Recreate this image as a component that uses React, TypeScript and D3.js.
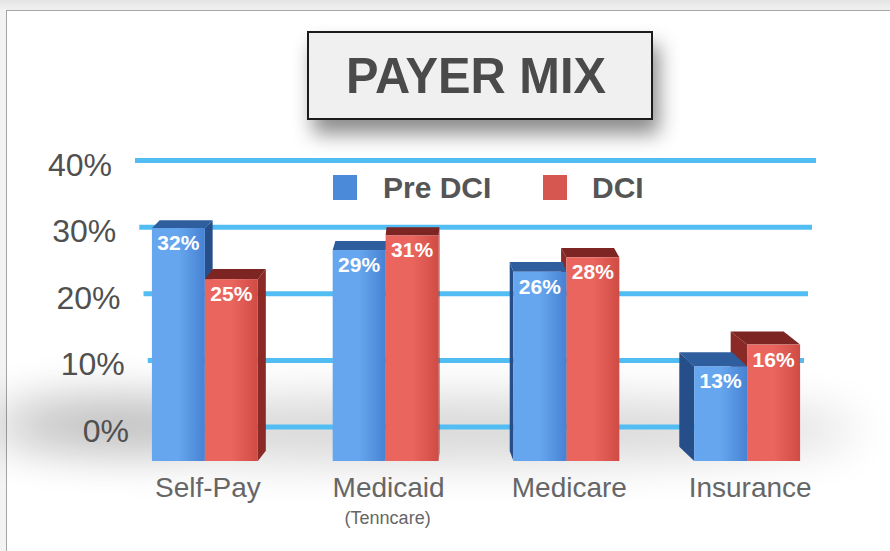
import React from 'react';
import * as d3 from 'd3';

const categories = ['Self-Pay', 'Medicaid', 'Medicare', 'Insurance'];
const subLabels = ['', '(Tenncare)', '', ''];
const seriesNames = ['Pre DCI', 'DCI'];
const preDci = [32, 29, 26, 13];
const dci = [25, 31, 28, 16];
const yTicks = [0, 10, 20, 30, 40];
const tickLabels = ['0%', '10%', '20%', '30%', '40%'];

const W = 890;
const H = 551;
const FONT = '"Liberation Sans", Arial, Helvetica, sans-serif';

const palette = {
  'Pre DCI': { front0: '#66a6ee', front1: '#4782d3', side: '#264f8a', top: '#2f5e9f', legend: '#4a8ad8' },
  DCI: { front0: '#ea655d', front1: '#cf4c45', side: '#8a2926', top: '#7d2522', legend: '#d65650' },
};

export default function App() {
  // bars stand in front of the grid, so they get their own scale
  const yBar = d3.scaleLinear().domain([0, 40]).range([461, 170]);
  const yGrid = d3.scaleLinear().domain([0, 40]).range([427, 160.5]);
  const gridStart = d3.scaleLinear().domain([0, 40]).range([152, 135]);
  const gridEnd = d3.scaleLinear().domain([0, 40]).range([800, 816]);

  const x0 = d3.scaleBand<string>().domain(categories).range([114.5, 837.5]).paddingInner(0.414).paddingOuter(0.207);
  const x1 = d3.scaleBand<string>().domain(seriesNames).range([0, x0.bandwidth()]);

  const values: Record<string, number[]> = { 'Pre DCI': preDci, DCI: dci };

  // fake perspective: depth grows as the top gets lower, direction from a vanishing x
  const vanishX = 440;
  const depth = (cx: number, yt: number) => {
    const dy = 8 + (yt - 230) * 0.045;
    const dx = -(cx - vanishX) * 0.03 * (dy / 8);
    return { dx, dy };
  };

  const bars = categories.map((cat, ci) => {
    const list = seriesNames.map((s) => {
      const v = values[s][ci];
      const x = (x0(cat) as number) + (x1(s) as number);
      const w = x1.bandwidth();
      const yt = yBar(v);
      const yb = yBar(0);
      const { dx, dy } = depth(x + w / 2, yt);
      return { cat, s, v, x, w, yt, yb, dx, dy };
    });
    // draw the bar whose side gets hidden first
    return list[0].dx < 0 ? list.slice().reverse() : list;
  });

  return (
    <svg width={W} height={H} style={{ position: 'absolute', left: 0, top: 0 }} fontFamily={FONT}>
      <defs>
        <linearGradient id="strip" x1="0" y1="0" x2="0" y2="1">
          <stop offset="0" stopColor="#e4e4e4" />
          <stop offset="1" stopColor="#f3f3f3" />
        </linearGradient>
        {seriesNames.map((s, i) => (
          <linearGradient key={s} id={'front' + i} x1="0" y1="0" x2="1" y2="0">
            <stop offset="0" stopColor={palette[s].front0} />
            <stop offset="0.5" stopColor={palette[s].front0} />
            <stop offset="1" stopColor={palette[s].front1} />
          </linearGradient>
        ))}
        <filter id="boxShadow" x="-20%" y="-30%" width="150%" height="180%">
          <feDropShadow dx="6" dy="14" stdDeviation="10" floodColor="#000" floodOpacity="0.45" />
        </filter>
        <filter id="floorBlur" x="-30%" y="-200%" width="160%" height="500%">
          <feGaussianBlur stdDeviation="24" />
        </filter>
      </defs>

      <rect x={0} y={0} width={W} height={H} fill="#f3f3f3" />
      <rect x={0} y={0} width={W} height={11} fill="url(#strip)" />
      <rect x={6.5} y={10.5} width={W + 20} height={H + 20} fill="#fff" stroke="#a5a5a5" />

      {/* floor shadow */}
      <ellipse cx={420} cy={430} rx={440} ry={32} fill="#000" opacity={0.16} filter="url(#floorBlur)" />
      <ellipse cx={100} cy={420} rx={100} ry={24} fill="#000" opacity={0.16} filter="url(#floorBlur)" />

      {/* title */}
      <rect x={308} y={32} width={344} height={87} fill="#f0f0f0" stroke="#1e1e1e" strokeWidth={2} filter="url(#boxShadow)" />
      <text
        x={476}
        y={93}
        textAnchor="middle"
        fontWeight="bold"
        fontSize={50}
        textLength={260}
        lengthAdjust="spacingAndGlyphs"
        fill="#4a4a4a"
      >
        PAYER MIX
      </text>

      {/* grid */}
      {yTicks.map((t, i) => (
        <g key={t}>
          <line x1={gridStart(t)} x2={gridEnd(t)} y1={yGrid(t)} y2={yGrid(t)} stroke="#52bdf2" strokeWidth={5} />
          <text x={gridStart(t) - 23} y={yGrid(t) + 15} textAnchor="end" fontSize={32} fill="#505050">
            {tickLabels[i]}
          </text>
        </g>
      ))}

      {/* legend */}
      <rect x={333} y={175} width={24} height={25} fill={palette['Pre DCI'].legend} />
      <text x={383} y={198} fontSize={30} fontWeight="bold" fill="#555">Pre DCI</text>
      <rect x={543} y={175} width={24} height={25} fill={palette.DCI.legend} />
      <text x={592} y={198} fontSize={30} fontWeight="bold" fill="#555">DCI</text>

      {/* bars */}
      {bars.map((group, gi) => (
        <g key={gi}>
          {group.map((b) => {
            const si = seriesNames.indexOf(b.s);
            const c = palette[b.s];
            const top = [
              [b.x, b.yt],
              [b.x + b.w, b.yt],
              [b.x + b.w + b.dx, b.yt - b.dy],
              [b.x + b.dx, b.yt - b.dy],
            ];
            const ex = b.dx >= 0 ? b.x + b.w : b.x;
            const side = [
              [ex, b.yt],
              [ex + b.dx, b.yt - b.dy],
              [ex + b.dx, b.yb - b.dy],
              [ex, b.yb],
            ];
            return (
              <g key={b.s}>
                <polygon points={side.map((p) => p.join(',')).join(' ')} fill={c.side} />
                <polygon points={top.map((p) => p.join(',')).join(' ')} fill={c.top} />
                <rect x={b.x} y={b.yt} width={b.w} height={b.yb - b.yt} fill={`url(#front${si})`} />
                <text x={b.x + b.w / 2} y={b.yt + 22} textAnchor="middle" fontSize={21} fontWeight="bold" fill="#fff">
                  {b.v}%
                </text>
              </g>
            );
          })}
        </g>
      ))}

      {/* category labels */}
      {categories.map((cat, i) => {
        const cx = (x0(cat) as number) + x0.bandwidth() / 2;
        return (
          <g key={cat}>
            <text x={cx + 3} y={497} textAnchor="middle" fontSize={28} fill="#666">{cat}</text>
            {subLabels[i] && (
              <text x={cx + 2} y={524} textAnchor="middle" fontSize={18} fill="#666">{subLabels[i]}</text>
            )}
          </g>
        );
      })}
    </svg>
  );
}
